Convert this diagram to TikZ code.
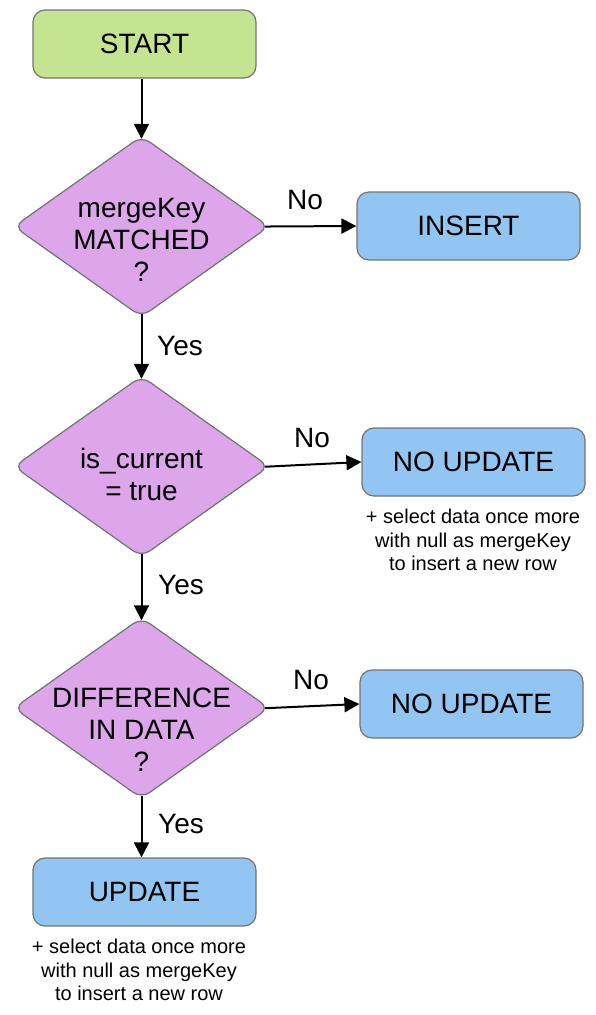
\documentclass[tikz,border=0pt]{standalone}
\usepackage{fontspec}
\setmainfont{Liberation Sans}
\usetikzlibrary{shapes.geometric,arrows.meta}
\definecolor{startFill}{HTML}{C5E492}
\definecolor{decisionFill}{HTML}{DDA5EA}
\definecolor{actionFill}{HTML}{93C5F2}
\colorlet{edgeGray}{black!55}
\tikzstyle{stepBox}=[rectangle,rounded corners=12pt,minimum width=223pt,minimum height=68pt,draw=edgeGray,line width=1.2pt,font=\fontsize{28}{32}\selectfont]
\tikzstyle{startBox}=[stepBox,fill=startFill]
\tikzstyle{actionBox}=[stepBox,fill=actionFill]
\tikzstyle{decision}=[diamond,inner sep=0pt,minimum width=255.5pt,minimum height=181pt,rounded corners=10pt,fill=decisionFill,draw=edgeGray,line width=1.2pt]
\tikzstyle{decisionLabel}=[inner sep=0pt,align=center,font=\fontsize{28}{32}\selectfont]
\tikzstyle{branchLabel}=[inner sep=0pt,font=\fontsize{28}{32}\selectfont]
\tikzstyle{noteText}=[inner sep=0pt,align=center,font=\fontsize{20}{23.5}\selectfont]
\tikzstyle{flowArrow}=[line width=2pt,-{Triangle[length=15pt,width=15pt]}]

\begin{document}
\begin{tikzpicture}[x=1pt,y=-1pt]
\useasboundingbox (0,0) rectangle (595,1015);
        \node[startBox] (start) at (144.5,44) {START};
        \node[decision] (matched) at (141.5,226.5) {};
        \node[decisionLabel] (matchedText) at (141.5,240) {mergeKey\\MATCHED\\?};
        \node[actionBox] (insert) at (468.5,226) {INSERT};
        \node[decision] (current) at (141.5,466.5) {};
        \node[decisionLabel] (currentText) at (141.5,474) {is\_current\\= true};
        \node[actionBox] (noUpdateOne) at (473.5,462) {NO UPDATE};
        \node[noteText] (noteOne) at (473,540) {+ select data once more\\with null as mergeKey\\to insert a new row};
        \node[decision] (difference) at (141.5,708) {};
        \node[decisionLabel] (differenceText) at (141.5,730) {DIFFERENCE\\IN DATA\\?};
        \node[actionBox] (noUpdateTwo) at (471.5,704) {NO UPDATE};
        \node[actionBox] (update) at (144.5,892) {UPDATE};
        \node[noteText] (noteTwo) at (139,970) {+ select data once more\\with null as mergeKey\\to insert a new row};
        \node[branchLabel] (noOne) at (305,200) {No};
        \node[branchLabel] (noTwo) at (312,438) {No};
        \node[branchLabel] (noThree) at (311,680) {No};
        \node[branchLabel] (yesOne) at (180,346) {Yes};
        \node[branchLabel] (yesTwo) at (181,585) {Yes};
        \node[branchLabel] (yesThree) at (181,824) {Yes};
        \draw[flowArrow,shorten >=-3.4pt] (matched.north |- start.south) -- (matched.north);
        \draw[flowArrow,shorten <=-4.8pt] (matched.east) -- (insert.west);
        \draw[flowArrow,shorten <=-3.4pt,shorten >=-3.4pt] (matched.south) -- (current.north);
        \draw[flowArrow,shorten <=-4.8pt] (current.east) -- (noUpdateOne.west);
        \draw[flowArrow,shorten <=-3.4pt,shorten >=-3.4pt] (current.south) -- (difference.north);
        \draw[flowArrow,shorten <=-4.8pt] (difference.east) -- (noUpdateTwo.west);
        \draw[flowArrow,shorten <=-3.4pt] (difference.south) -- (difference.south |- update.north);
\end{tikzpicture}
\end{document}
